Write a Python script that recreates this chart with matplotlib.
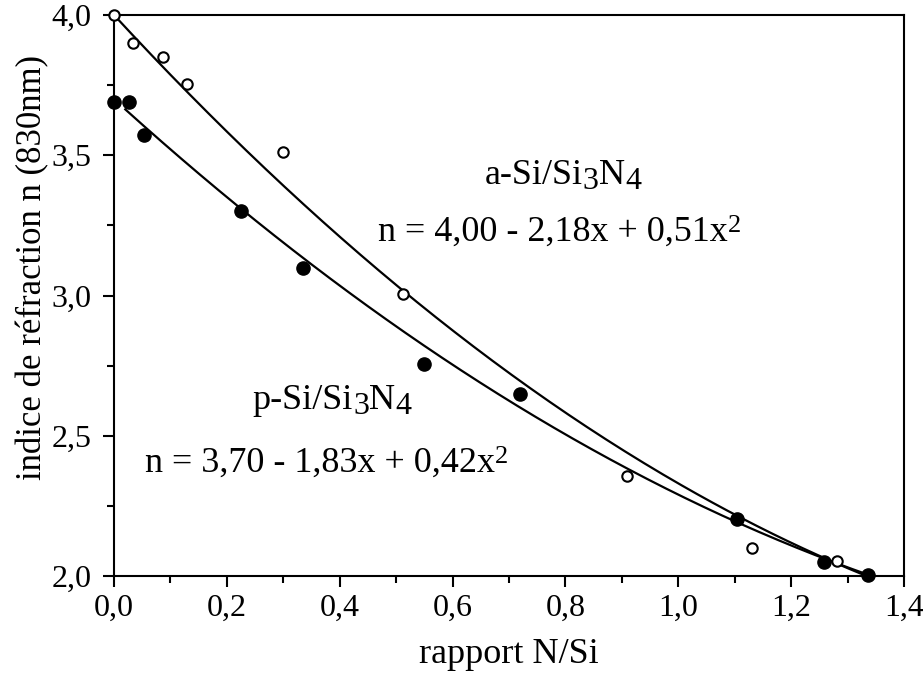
import numpy as np
import matplotlib
matplotlib.use("Agg")
import matplotlib.pyplot as plt
from matplotlib.ticker import FuncFormatter, MultipleLocator

plt.rcParams['font.family'] = ['Liberation Serif', 'DejaVu Serif']

# a-Si/Si3N4 (open circles)
a_x = [0.0, 0.034, 0.087, 0.129, 0.30, 0.512, 0.909, 1.131, 1.281]
a_n = [4.0, 3.90, 3.85, 3.754, 3.51, 3.005, 2.357, 2.10, 2.053]
a_coef = [4.00, -2.18, 0.51]

# p-Si/Si3N4 (filled circles)
p_x = [0.0, 0.026, 0.053, 0.225, 0.335, 0.55, 0.72, 1.104, 1.258, 1.336]
p_n = [3.69, 3.69, 3.572, 3.30, 3.098, 2.756, 2.649, 2.203, 2.05, 2.004]
p_coef = [3.70, -1.83, 0.42]


def fit(coef, x):
    return coef[0] + coef[1] * x + coef[2] * x ** 2


def comma(v, pos):
    return "{:.1f}".format(v).replace(".", ",")


DESC = 0.217  # descent of "lp" as a fraction of the font size


def chain_text(ax, x, y, parts):
    # parts: (string, baseline shift in points, font size), drawn one after another
    prev = None
    dy_prev, s_prev = 0, 0
    for s, dy, size in parts:
        if prev is None:
            prev = ax.text(x, y, s, fontsize=size, ha="left", va="baseline")
        else:
            off = dy - dy_prev - DESC * (size - s_prev)
            prev = ax.annotate(s, xy=(1, 0), xycoords=prev, xytext=(0, off),
                               textcoords="offset points", fontsize=size,
                               ha="left", va="bottom")
        dy_prev, s_prev = dy, size


fig = plt.figure(figsize=(9.23, 6.79), dpi=100)
ax = fig.add_axes([0.1235, 0.1517, 0.856, 0.8262])

xa = np.linspace(0, 1.335, 200)
xp = np.linspace(0.02, 1.335, 200)
ax.plot(xa, fit(a_coef, xa), "-k", lw=1.6, zorder=2)
ax.plot(xp, fit(p_coef, xp), "-k", lw=1.6, zorder=2)

ax.plot(a_x, a_n, "o", ms=7.5, mfc="white", mec="black", mew=1.5, zorder=3, clip_on=False)
ax.plot(p_x, p_n, "o", ms=9.5, mfc="black", mec="black", zorder=3, clip_on=False)

ax.set_xlim(0, 1.4)
ax.set_ylim(2.0, 4.0)
ax.xaxis.set_major_locator(MultipleLocator(0.2))
ax.xaxis.set_minor_locator(MultipleLocator(0.1))
ax.yaxis.set_major_locator(MultipleLocator(0.5))
ax.yaxis.set_minor_locator(MultipleLocator(0.25))
ax.xaxis.set_major_formatter(FuncFormatter(comma))
ax.yaxis.set_major_formatter(FuncFormatter(comma))
ax.tick_params(which="major", direction="out", length=8, width=1.5, labelsize=23)
ax.tick_params(which="minor", direction="out", length=5, width=1.5)
ax.tick_params(axis="x", which="major", pad=5)
ax.tick_params(axis="y", which="major", pad=8)
for s in ax.spines.values():
    s.set_linewidth(1.5)

ax.set_xlabel("rapport N/Si", fontsize=26)
ax.xaxis.label.set_va("baseline")
ax.xaxis.set_label_coords(0.5, -0.155)
ax.set_ylabel("indice de réfraction n (830nm)", fontsize=25)
ax.yaxis.set_label_coords(-0.082, 0.55)

fs, fsub, fsup = 26, 23, 19
chain_text(ax, 0.657, 3.398, [("a-Si/Si", 0, fs), ("3", -3.5, fsub), ("N", 0, fs), ("4", -3.5, fsub)])
chain_text(ax, 0.468, 3.194, [("n = 4,00 - 2,18x + 0,51x", 0, fs), ("2", 7, fsup)])
chain_text(ax, 0.246, 2.595, [("p-Si/Si", 0, fs), ("3", -3.5, fsub), ("N", 0, fs), ("4", -3.5, fsub)])
chain_text(ax, 0.055, 2.371, [("n = 3,70 - 1,83x + 0,42x", 0, fs), ("2", 7, fsup)])

fig.savefig("out.png", dpi=100)
